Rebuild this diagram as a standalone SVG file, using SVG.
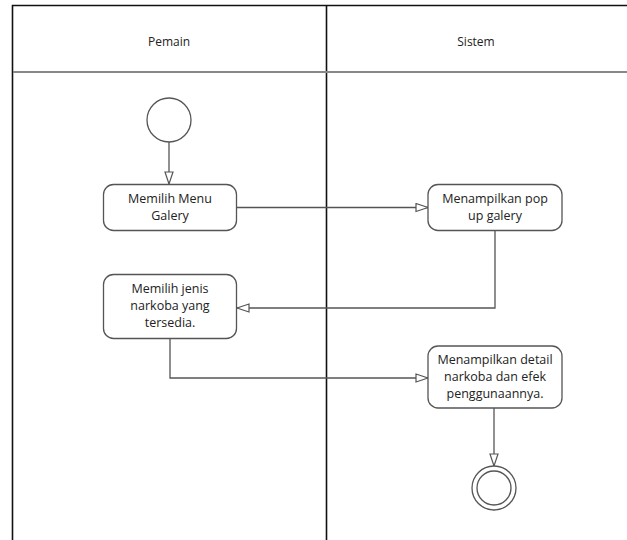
<svg xmlns="http://www.w3.org/2000/svg" width="627" height="540" viewBox="0 0 627 540">
<defs>
<marker id="open" viewBox="0 0 14 10" refX="13" refY="5" markerWidth="14" markerHeight="10" markerUnits="userSpaceOnUse" orient="auto">
<path d="M1,1 L13,5 L1,9 Z" fill="#fff" stroke="#555" stroke-width="1.2"/>
</marker>
<style>
.frame{fill:none;stroke:#111;stroke-width:1.6}
.hdr{fill:none;stroke:#888;stroke-width:2.2}
.node{fill:#fff;stroke:#555;stroke-width:1.3}
.conn{fill:none;stroke:#555;stroke-width:1.3}
.t{font-family:"Open Sans","Liberation Sans",sans-serif;font-size:12.5px;fill:#222;text-anchor:middle}
.h{font-family:"Open Sans","Liberation Sans",sans-serif;font-size:12px;fill:#222;text-anchor:middle}
</style>
</defs>
<rect width="627" height="540" fill="#fff"/>
<g id="swimlanes">
<path class="frame" d="M12.5,541 V5.5 H628"/>
<path class="frame" d="M326.5,5.5 V541"/>
<path class="hdr" d="M13,72 H628"/>
<text class="h" x="169" y="46">Pemain</text>
<text class="h" x="476" y="46">Sistem</text>
</g>
<g id="connectors">
<path class="conn" d="M169,142 V184" marker-end="url(#open)"/>
<path class="conn" d="M237,207.5 H428" marker-end="url(#open)"/>
<path class="conn" d="M495,231 V308 H237" marker-end="url(#open)"/>
<path class="conn" d="M170,338 V378 H428" marker-end="url(#open)"/>
<path class="conn" d="M494,408 V466" marker-end="url(#open)"/>
</g>
<g id="start">
<circle class="node" cx="169" cy="120" r="22"/>
</g>
<g id="memilih-menu">
<rect class="node" x="103.5" y="184.5" width="133" height="46" rx="10"/>
<text class="t" x="170" y="203">Memilih Menu</text>
<text class="t" x="170" y="220">Galery</text>
</g>
<g id="popup-galery">
<rect class="node" x="428" y="184.5" width="134" height="46" rx="10"/>
<text class="t" x="495" y="203">Menampilkan pop</text>
<text class="t" x="495" y="220">up galery</text>
</g>
<g id="memilih-jenis">
<rect class="node" x="103.5" y="274.5" width="133" height="64" rx="10"/>
<text class="t" x="170" y="293">Memilih jenis</text>
<text class="t" x="170" y="310">narkoba yang</text>
<text class="t" x="170" y="327">tersedia.</text>
</g>
<g id="detail-narkoba">
<rect class="node" x="428" y="346" width="134" height="62" rx="10"/>
<text class="t" x="495" y="364">Menampilkan detail</text>
<text class="t" x="495" y="381">narkoba dan efek</text>
<text class="t" x="495" y="398">penggunaannya.</text>
</g>
<g id="end">
<circle class="node" cx="494" cy="488" r="22"/>
<circle class="node" cx="494" cy="488" r="17"/>
</g>
</svg>
